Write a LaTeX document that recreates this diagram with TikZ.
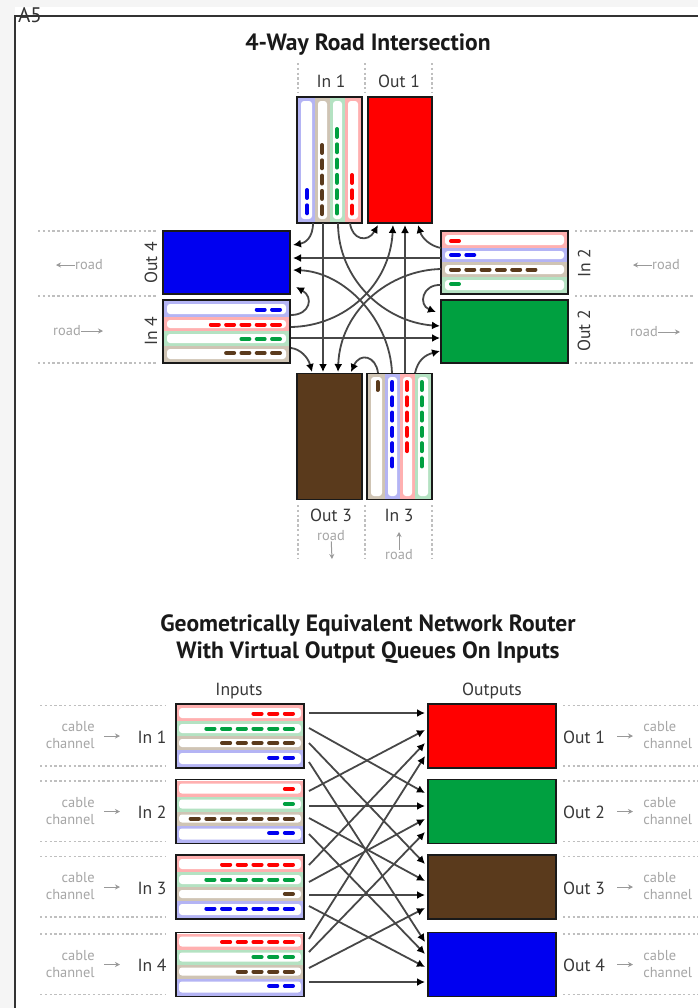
\documentclass[tikz,border=0pt]{standalone}
\usepackage{fontspec}
\setmainfont{PT Sans}
\usetikzlibrary{arrows.meta}
\newcommand{\px}{0.02cm}
\definecolor{qred}{HTML}{FF0000}
\definecolor{qgreen}{HTML}{00A040}
\definecolor{qbrown}{HTML}{5A3A1C}
\definecolor{qblue}{HTML}{0000F0}
\definecolor{lred}{HTML}{FFB0B0}
\definecolor{lgreen}{HTML}{B4E2C2}
\definecolor{lbrown}{HTML}{CFC4B4}
\definecolor{lblue}{HTML}{B4B4F4}
\tikzset{
    qbox/.style={draw=black!90,line width=1.8*\px,minimum width=#1*\px,inner sep=0pt,outer sep=0pt},
    link/.style={draw=black!72,line width=1.8*\px,-{Latex[length=8*\px,width=8*\px,black]}},
    faint/.style={draw=black!40,line width=1*\px,-{Stealth[length=5*\px,width=5*\px]}},
    rule/.style={draw=black!25,line width=1.6*\px,dash pattern=on 2.4*\px off 2.4*\px},
    lbl/.style={text=black!78,font=\fontsize{10}{10}\selectfont,inner sep=0pt},
    hint/.style={text=black!35,font=\fontsize{8.2}{9}\selectfont,inner sep=0pt},
    title/.style={text=black!90,font=\bfseries\fontsize{13.4}{13.4}\selectfont,inner sep=0pt},
}
% one lane: colour, outer corners, first dash, step to the next dash, number of dashes
\newcommand{\lane}[9]{
    \fill[l#1] (#2,#3) rectangle (#4,#5);
    \fill[white,rounded corners=3*\px] ({#2+3},{#3+3}) rectangle ({#4-3},{#5-3});
    \foreach \i in {1,...,#9}
        \draw[q#1,line width=4*\px,line cap=round] ({#6+(\i-1)*(#8)},{#7}) -- ++({0.52*(#8)},0);
}
\newcommand{\vlane}[9]{
    \fill[l#1] (#2,#3) rectangle (#4,#5);
    \fill[white,rounded corners=3*\px] ({#2+3},{#3+3}) rectangle ({#4-3},{#5-3});
    \foreach \i in {1,...,#9}
        \draw[q#1,line width=4*\px,line cap=round] ({#6},{#7+(\i-1)*(#8)}) -- ++(0,{0.52*(#8)});
}
\begin{document}
\begin{tikzpicture}[x=\px,y=-\px]
    \useasboundingbox (0,0) rectangle (698,1008);  % Fixes the page size
    \fill[black!4] (0,0) rectangle (698,1008);  % Grey surround
    \fill[white] (15,7) rectangle (698,1008);  % Sheet
    \draw[black!80,line width=1.6*\px] (15,1008) -- (15,16) -- (698,16);  % Sheet edge
    \node[text=black!80,inner sep=0pt,font=\fontsize{12}{12}\selectfont] (corner) at (30,15) {A5};

    \node[title] (roadtitle) at (368,45) {4-Way Road Intersection};
    \node[title] (routertitle) at (368,625) {Geometrically Equivalent Network Router};
    \node[title] (routertitleb) at (368,653) {With Virtual Output Queues On Inputs};

    % Road: dotted edges of the lanes
    \foreach \x in {298,365,432} \draw[rule] (\x,63) -- (\x,92);
    \foreach \x in {298,365,432} \draw[rule] (\x,505) -- (\x,558);
    \foreach \y in {231,296,363} {
        \draw[rule] (38,\y) -- (157,\y);
        \draw[rule] (575,\y) -- (694,\y);
    }

    % Road: queues
    \node[qbox=65,minimum height=126*\px,fill=white] (in1) at (329.5,160) {};
    \vlane{blue}{298}{98}{315}{222}{307}{190}{15.3}{2}
    \vlane{brown}{315}{98}{330}{222}{322}{145}{15.3}{5}
    \vlane{green}{330}{98}{345}{222}{337}{129}{15.3}{6}
    \vlane{red}{345}{98}{361}{222}{352}{175}{15.3}{3}
    \node[qbox=65,minimum height=126*\px,fill=white] (in3) at (399.5,436.5) {};
    \vlane{brown}{368}{374}{385}{499}{377.5}{382}{15.3}{1}
    \vlane{blue}{385}{374}{400}{499}{392.3}{382}{15.3}{6}
    \vlane{red}{400}{374}{415}{499}{407}{382}{15.3}{5}
    \vlane{green}{415}{374}{431}{499}{421.7}{382}{15.3}{6}
    \node[qbox=127,minimum height=63*\px,fill=white] (in2) at (504.5,262.5) {};
    \lane{red}{442}{232}{567}{248}{451}{241}{15.3}{1}
    \lane{blue}{442}{248}{567}{262}{451}{255}{15.3}{2}
    \lane{brown}{442}{262}{567}{277}{451}{269.5}{15.3}{6}
    \lane{green}{442}{277}{567}{293}{451}{284}{15.3}{1}
    \node[qbox=127,minimum height=63*\px,fill=white] (in4) at (226.5,331.5) {};
    \lane{blue}{164}{301}{289}{317}{280}{309.5}{-15.3}{2}
    \lane{red}{164}{317}{289}{331}{280}{324.5}{-15.3}{5}
    \lane{green}{164}{331}{289}{346}{280}{339}{-15.3}{3}
    \lane{brown}{164}{346}{289}{362}{280}{353}{-15.3}{4}
    % Road: box edges again, over the lanes
    \foreach \b in {in1,in2,in3,in4}
        \draw[black!90,line width=1.8*\px] (\b.north west) rectangle (\b.south east);

    % Road: outputs
    \node[qbox=64,minimum height=126*\px,fill=qred] (out1) at (400,160) {};
    \node[qbox=127,minimum height=63*\px,fill=qgreen] (out2) at (504.5,331.5) {};
    \node[qbox=65,minimum height=126*\px,fill=qbrown] (out3) at (329.5,436.5) {};
    \node[qbox=127,minimum height=63*\px,fill=qblue] (out4) at (226.5,262.5) {};

    % Road: labels
    \node[lbl] (lin1) at (331,81) {In 1};
    \node[lbl] (lout1) at (399,81) {Out 1};
    \node[lbl,rotate=90] (lin2) at (584,263) {In 2};
    \node[lbl,rotate=90] (lout2) at (584,331) {Out 2};
    \node[lbl] (lout3) at (331,515) {Out 3};
    \node[lbl] (lin3) at (399,515) {In 3};
    \node[lbl,rotate=90] (lout4) at (151,263) {Out 4};
    \node[lbl,rotate=90] (lin4) at (151,331) {In 4};

    \node[hint] (roadw) at (89,265) {road};
    \node[hint] (roadwb) at (67,331) {road};
    \node[hint] (roade) at (666,265) {road};
    \node[hint] (roadeb) at (644,332) {road};
    \node[hint] (roads) at (331,536) {road};
    \node[hint] (roadn) at (399,555) {road};
    \coordinate (endw) at (56,265);
    \coordinate (endwb) at (103,331);
    \coordinate (ende) at (633,265);
    \coordinate (endeb) at (680,332);
    \coordinate (ends) at (332,559);
    \coordinate (endn) at (399,532);
    \draw[faint] (roadw) -- (endw);
    \draw[faint] (roadwb) -- (endwb);
    \draw[faint] (roade) -- (ende);
    \draw[faint] (roadeb) -- (endeb);
    \draw[faint] (roads) -- (ends);
    \draw[faint] (roadn) -- (endn);

    % Road: ends of the connectors, s<in><out> and t<out><in>
    \foreach \n/\x/\y in {s14/313/223,s13/323/223,s12/338/223,s11/350/223,
                          s21/441/248,s24/441/258,s23/441/269,s22/441/285,
                          s33/378/373,s34/392/373,s31/405/373,s32/415/373,
                          s44/291/315,s41/291/327,s42/291/338,s43/291/348,
                          t11/378/225,t14/393/225,t13/405/225,t12/418/225,
                          t22/436/312,t21/440/326,t24/440/338,t23/440/351,
                          t34/312/372,t31/323/372,t32/338/372,t33/351/372,
                          t41/293/245,t42/293/258,t43/293/270,t44/296/287}
        \coordinate (\n) at (\x,\y);
    \draw[link] (s14) .. controls (313,238) and (305,243) .. (t41);
    \draw[link] (s13) -- (t31);
    \draw[link] (s12) .. controls (338,280) and (385,322) .. (t21);
    \draw[link] (s11) .. controls (352,240) and (368,243) .. (t11);
    \draw[link] (s21) .. controls (430,246) and (422,238) .. (t12);
    \draw[link] (s24) -- (t42);
    \draw[link] (s23) .. controls (390,270) and (340,310) .. (t32);
    \draw[link] (s22) .. controls (422,284) and (418,305) .. (t22);
    \draw[link] (s33) .. controls (376,356) and (360,352) .. (t33);
    \draw[link] (s34) .. controls (390,320) and (345,272) .. (t43);
    \draw[link] (s31) -- (t13);
    \draw[link] (s32) .. controls (418,360) and (425,355) .. (t23);
    \draw[link] (s44) .. controls (310,315) and (314,297) .. (t44);
    \draw[link] (s41) .. controls (345,326) and (390,285) .. (t14);
    \draw[link] (s42) -- (t24);
    \draw[link] (s43) .. controls (300,349) and (308,357) .. (t34);

    % Router: labels above the columns
    \node[lbl] (linputs) at (239,691) {Inputs};
    \node[lbl] (loutputs) at (492,691) {Outputs};

    % Router: one row for each input and output
    \foreach \n/\ytop/\cr/\cg/\cn/\cu/\col in {1/704/3/6/5/2/qred,2/779.5/1/1/7/2/qgreen,3/855/5/6/1/6/qbrown,4/932.5/5/3/4/2/qblue} {
        \node[qbox=128,minimum height=64*\px,fill=white] (rin\n) at (240,\ytop+32) {};
        \lane{red}{176}{\ytop+1}{304}{\ytop+17}{293}{\ytop+9.5}{-15.7}{\cr}
        \lane{green}{176}{\ytop+17}{304}{\ytop+32}{293}{\ytop+24.5}{-15.7}{\cg}
        \lane{brown}{176}{\ytop+32}{304}{\ytop+46}{293}{\ytop+39}{-15.7}{\cn}
        \lane{blue}{176}{\ytop+46}{304}{\ytop+63}{293}{\ytop+53.5}{-15.7}{\cu}
        \draw[black!90,line width=1.8*\px] (rin\n.north west) rectangle (rin\n.south east);
        \node[qbox=128,minimum height=64*\px,fill=\col] (rout\n) at (492,\ytop+32) {};
        \node[lbl] (lrin\n) at (152,\ytop+33) {In \n};
        \node[lbl] (lrout\n) at (584,\ytop+33) {Out \n};
        \node[hint,anchor=east] (cablein\n) at (95,\ytop+23) {cable};
        \node[hint,anchor=east] (chanin\n) at (95,\ytop+40) {channel};
        \node[hint,anchor=west] (cableout\n) at (643,\ytop+23) {cable};
        \node[hint,anchor=west] (chanout\n) at (643,\ytop+40) {channel};
        \coordinate (fromin\n) at (104,\ytop+32);
        \coordinate (toin\n) at (120,\ytop+32);
        \coordinate (fromout\n) at (617,\ytop+32);
        \coordinate (toout\n) at (633,\ytop+32);
        \draw[faint] (fromin\n) -- (toin\n);
        \draw[faint] (fromout\n) -- (toout\n);
        \draw[rule] (40,\ytop+1.5) -- (166,\ytop+1.5);
        \draw[rule] (40,\ytop+62) -- (166,\ytop+62);
        \draw[rule] (563,\ytop+1.5) -- (698,\ytop+1.5);
        \draw[rule] (563,\ytop+62) -- (698,\ytop+62);
    }

    % Router: ends of the connectors
    \foreach \n/\y in {rs11/713,rs12/728,rs13/743,rs14/762,rs21/791,rs22/806,rs23/818,rs24/834,
                       rs31/865,rs32/882,rs33/895,rs34/906,rs41/939,rs42/952,rs43/968,rs44/982}
        \coordinate (\n) at (309,\y);
    \foreach \n/\y in {rt11/713,rt12/730,rt13/743,rt14/756,rt21/793,rt22/806,rt23/819,rt24/832,
                       rt31/864,rt32/881,rt33/895,rt34/908,rt41/942,rt42/954,rt43/967,rt44/982}
        \coordinate (\n) at (425,\y);
    \foreach \i in {1,...,4}
        \foreach \o in {1,...,4}
            \draw[link] (rs\i\o) -- (rt\o\i);
\end{tikzpicture}
\end{document}
